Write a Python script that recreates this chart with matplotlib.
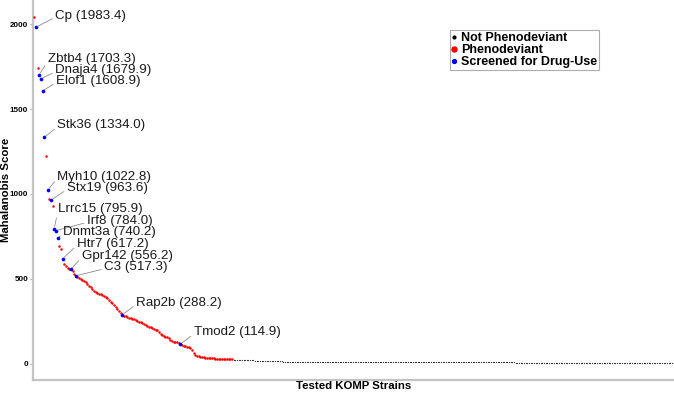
import numpy as np
import matplotlib
matplotlib.use("Agg")
import matplotlib.pyplot as plt
from matplotlib.lines import Line2D

plt.rcParams['font.family'] = ['Liberation Sans', 'DejaVu Sans']

# ---------------- data ----------------
# ranked Mahalanobis scores of phenodeviant strains (includes drug-screened ones)
phenodeviant_scores = [
    2045, 1983.4, 1745, 1703.3, 1679.9, 1608.9, 1334.0, 1225, 1022.8, 970,
    963.6, 928, 795.9, 784.0, 740.2, 695, 678, 617.2, 590, 578,
    566, 560, 556.2, 545, 530, 517.3,
    508, 503, 498, 492, 485, 478, 470, 460, 450, 440, 430, 420, 416, 413,
    410, 405, 398, 393, 385, 375, 365, 355, 345, 333, 320, 310, 300,
    288.2,
    283, 279, 275, 271, 266, 263, 260, 256, 251, 247, 243, 238, 233, 226,
    221, 218, 214, 210, 206, 200, 195, 186, 176, 166, 160, 158, 155, 148,
    141, 135, 130, 127, 125, 120,
    114.9,
    110, 106, 102, 99, 95, 91, 80, 62, 52, 47, 43, 40, 38, 36, 35, 33, 32,
    31, 30, 30, 29, 29, 28, 28, 27, 27, 26, 26, 25, 25, 24,
]

# ranked scores of the remaining (not phenodeviant) strains
not_phenodeviant_scores = [
    23, 23, 22, 22, 21, 21, 20, 20, 19, 19, 18, 18, 18, 17, 17, 17, 16, 16, 16, 15,
    15, 15, 14, 14, 14, 14, 13, 13, 13, 13, 12, 12, 12, 12, 12, 11, 11, 11, 11, 11,
    11, 11, 10, 10, 10, 10, 10, 10, 10, 10, 10, 10, 9, 9, 9, 9, 9, 9, 9, 9,
    9, 9, 9, 9, 9, 9, 9, 9, 9, 9, 9, 9, 8, 8, 8, 8, 8, 8, 8, 8,
    8, 8, 8, 8, 8, 8, 8, 8, 8, 8, 8, 8, 8, 8, 8, 8, 8, 8, 8, 8,
    8, 8, 8, 8, 8, 8, 8, 8, 8, 8, 7, 7, 7, 7, 7, 7, 7, 7, 7, 7,
    7, 7, 7, 7, 7, 7, 7, 7, 7, 7, 7, 7, 7, 7, 7, 7, 7, 7, 7, 7,
    7, 7, 7, 7, 7, 7, 7, 7, 7, 7, 7, 7, 7, 7, 7, 7, 7, 7, 7, 7,
    7, 7, 7, 7, 7, 7, 7, 7, 7, 7, 6, 6, 6, 6, 6, 6, 6, 6, 6, 6,
    6, 6, 6, 6, 6, 6, 6, 6, 6, 6, 6, 6, 6, 6, 6, 6, 6, 6, 6, 6,
    6, 6, 6, 6, 6, 6, 6, 6, 6, 6, 5, 5, 5, 5, 5, 5, 5, 5, 5, 5,
    5, 5, 5, 5, 5, 5, 5, 5, 5, 5, 4, 4, 4, 4, 4, 4, 4, 4, 4, 4,
    4, 4, 4, 4, 4, 3, 3, 3, 3, 3, 3, 3, 3, 3, 3, 2, 2, 2, 2, 2,
    2, 2, 1, 1, 1, 1,
]

# strains screened for drug use (gene, score)
screened_genes = ["Cp", "Zbtb4", "Dnaja4", "Elof1", "Stk36", "Myh10", "Stx19",
                  "Lrrc15", "Irf8", "Dnmt3a", "Htr7", "Gpr142", "C3", "Rap2b", "Tmod2"]
screened_scores = [1983.4, 1703.3, 1679.9, 1608.9, 1334.0, 1022.8, 963.6,
                   795.9, 784.0, 740.2, 617.2, 556.2, 517.3, 288.2, 114.9]

legend_labels = ["Not Phenodeviant", "Phenodeviant", "Screened for Drug-Use"]

# ---------------- layout ----------------
# label offsets from their points, in pixels (dx, dy up)
label_offsets = {
    "Cp": (19, 11.7), "Zbtb4": (8.4, 15.5), "Dnaja4": (14, 8.5), "Elof1": (13.3, 9.8),
    "Stk36": (12.7, 12), "Myh10": (9.7, 13.4), "Stx19": (15.7, 12.2),
    "Lrrc15": (3.6, 19.6), "Irf8": (30.6, 9.9), "Dnmt3a": (5.7, 5.7),
    "Htr7": (14, 15.2), "Gpr142": (10.7, 13.5), "C3": (28.2, 8.8),
    "Rap2b": (13.7, 12), "Tmod2": (13.2, 11.7),
}

pheno = np.array(phenodeviant_scores, dtype=float)
notpheno = np.array(not_phenodeviant_scores, dtype=float)
rank_pheno = np.arange(len(pheno))
rank_not = np.arange(len(pheno), len(pheno) + len(notpheno))
is_screened = np.isin(pheno, screened_scores)

fig = plt.figure(figsize=(6.74, 3.93), dpi=100)
ax = fig.add_axes([33 / 674, 13 / 393, 641 / 674, 380 / 393])

ax.scatter(rank_not, notpheno, s=0.8, color="#333333", linewidths=0, zorder=2)
ax.scatter(rank_pheno[~is_screened], pheno[~is_screened], s=3.2, color="red",
           linewidths=0, zorder=3)
ax.scatter(rank_pheno[is_screened], pheno[is_screened], s=7, color="blue",
           linewidths=0, zorder=4)

for gene, score in zip(screened_genes, screened_scores):
    idx = int(np.where(pheno == score)[0][0])
    dx, dy = label_offsets[gene]
    ax.annotate(f"{gene} ({score:.1f})", xy=(idx, score), xytext=(dx, dy),
                textcoords="offset pixels", ha="left", va="center",
                fontsize=9.6, color="#1a1a1a", zorder=5,
                arrowprops=dict(arrowstyle="-", color="#8c8c8c", lw=0.6,
                                shrinkA=0, shrinkB=1.5, relpos=(0, 0.35)))

ax.set_xlim(-0.8, 385.3)
ax.set_ylim(-97, 2144)
ax.set_yticks([0, 500, 1000, 1500, 2000])
ax.set_xticks([])
for lab in ax.get_yticklabels():
    lab.set_fontweight("bold")
ax.tick_params(axis="y", labelsize=5.8, length=2, width=0.8, color="#b0b0b0", pad=1.5)

for s in ["top", "right"]:
    ax.spines[s].set_visible(False)
for s in ["left", "bottom"]:
    ax.spines[s].set_color("#c4c4c4")
    ax.spines[s].set_linewidth(1.6)

ax.set_xlabel("Tested KOMP Strains", fontsize=8.2, fontweight="bold", labelpad=1)
ax.set_ylabel("Mahalanobis Score", fontsize=8.2, fontweight="bold",
              va="center", ha="center")
ax.yaxis.set_label_coords(-0.042, 0.5)

handles = [
    Line2D([], [], marker="o", linestyle="", color="black", markersize=2),
    Line2D([], [], marker="o", linestyle="", color="red", markersize=3.6),
    Line2D([], [], marker="o", linestyle="", color="blue", markersize=2.8),
]
leg = ax.legend(handles, legend_labels, loc="upper left",
                bbox_to_anchor=(0.65, 0.921), frameon=True, fancybox=False,
                prop={"weight": "bold", "size": 9}, handlelength=0.4,
                handletextpad=0.35, labelspacing=0.0, borderpad=0.15,
                borderaxespad=0)
leg.get_frame().set_edgecolor("#999999")
leg.get_frame().set_linewidth(0.8)

fig.savefig("out.png", dpi=100)
